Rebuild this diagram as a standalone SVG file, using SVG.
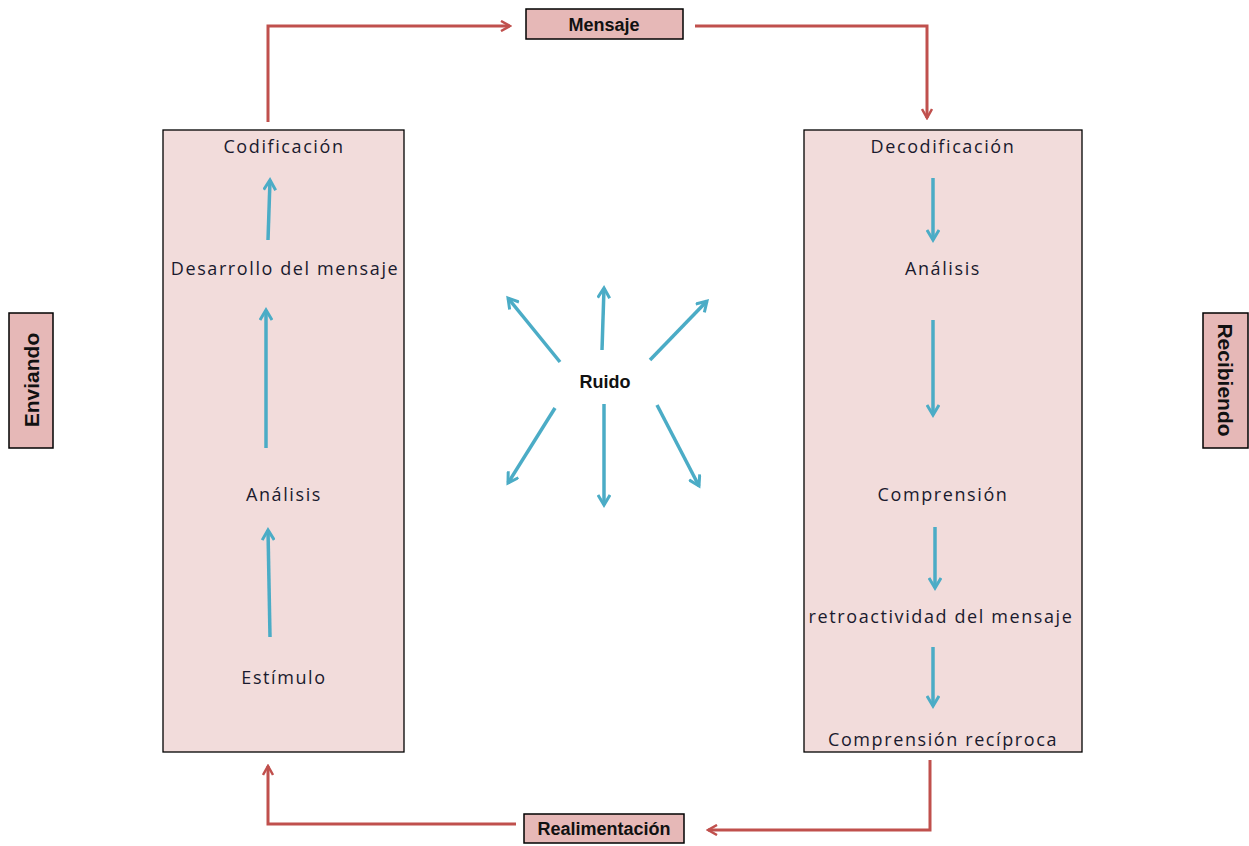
<svg xmlns="http://www.w3.org/2000/svg" width="1249" height="846" viewBox="0 0 1249 846">
<style>
.big{fill:#f2dcdb;stroke:#000;stroke-width:1.3}
.lab{fill:#e6b8b7;stroke:#000;stroke-width:1.5}
.t{font-family:"Open Sans","Liberation Sans",sans-serif;font-size:18px;letter-spacing:1.6px;fill:#1a1a2e;text-anchor:middle}
.b{font-family:"Liberation Sans",sans-serif;font-size:18px;font-weight:bold;fill:#111;text-anchor:middle}
.v{font-size:21px}
.red{fill:none;stroke:#c0504d;stroke-width:3;marker-end:url(#ra)}
.blue{fill:none;stroke:#4bacc6;stroke-width:3.5;marker-end:url(#ba)}
</style>
<defs>
<marker id="ra" viewBox="0 0 12 12" refX="10" refY="6" markerWidth="12" markerHeight="12" markerUnits="userSpaceOnUse" orient="auto"><path d="M1,1 L10,6 L1,11" fill="none" stroke="#c0504d" stroke-width="2.5"/></marker>
<marker id="ba" viewBox="0 0 14 14" refX="11" refY="7" markerWidth="14" markerHeight="14" markerUnits="userSpaceOnUse" orient="auto"><path d="M1,1 L11,7 L1,13" fill="none" stroke="#4bacc6" stroke-width="3"/></marker>
</defs>
<rect width="1249" height="846" fill="#fff"/>
<g id="sender">
<rect class="big" x="163" y="130" width="241" height="622"/>
<text class="t" x="284" y="153">Codificación</text>
<text class="t" x="285" y="275">Desarrollo del mensaje</text>
<text class="t" x="284" y="501">Análisis</text>
<text class="t" x="284" y="684">Estímulo</text>
</g>
<g id="receiver">
<rect class="big" x="804" y="130" width="278" height="622"/>
<text class="t" x="943" y="153">Decodificación</text>
<text class="t" x="943" y="275">Análisis</text>
<text class="t" x="943" y="501">Comprensión</text>
<text class="t" x="941" y="623">retroactividad del mensaje</text>
<text class="t" x="943" y="746">Comprensión recíproca</text>
</g>
<g id="mensaje">
<rect class="lab" x="526" y="9" width="157" height="30"/>
<text class="b" x="604" y="31">Mensaje</text>
</g>
<g id="realimentacion">
<rect class="lab" x="524" y="814" width="160" height="29"/>
<text class="b" x="604" y="835">Realimentación</text>
</g>
<g id="enviando">
<rect class="lab" x="9" y="313" width="44" height="135"/>
<text class="b v" transform="translate(39,380) rotate(-90)">Enviando</text>
</g>
<g id="recibiendo">
<rect class="lab" x="1203" y="313" width="45" height="135"/>
<text class="b v" transform="translate(1218,380) rotate(90)">Recibiendo</text>
</g>
<g id="ruido">
<text class="b" x="605" y="388">Ruido</text>
</g>
<g id="connectors">
<path class="red" d="M268,122 V26 H510"/>
<path class="red" d="M695,26 H927 V118"/>
<path class="red" d="M930,760 V830 H708"/>
<path class="red" d="M516,824 H268 V766"/>
<path class="blue" d="M268,240 L270,180"/>
<path class="blue" d="M266,448 V310"/>
<path class="blue" d="M270,637 L268,530"/>
<path class="blue" d="M933,178 V240"/>
<path class="blue" d="M933,320 V415"/>
<path class="blue" d="M935,527 V588"/>
<path class="blue" d="M933,647 V706"/>
<path class="blue" d="M560,362 L508,298"/>
<path class="blue" d="M602,350 L604,288"/>
<path class="blue" d="M650,360 L707,301"/>
<path class="blue" d="M555,408 L508,483"/>
<path class="blue" d="M604,404 V505"/>
<path class="blue" d="M657,405 L699,486"/>
</g>
</svg>
